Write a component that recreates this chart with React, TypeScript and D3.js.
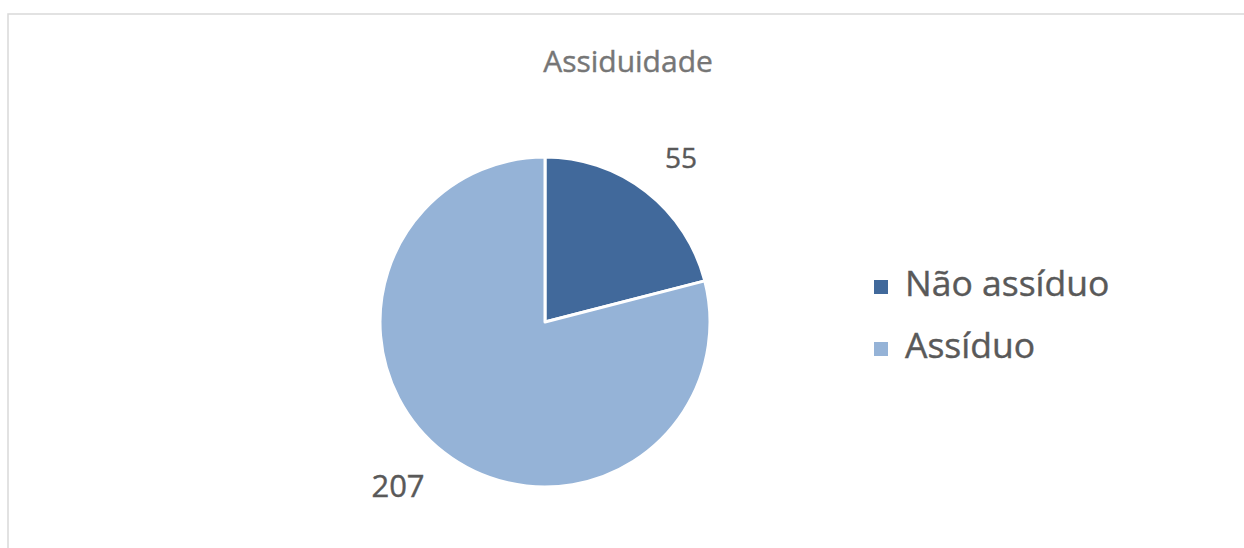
import React from "react";
import * as d3 from "d3";

const title = "Assiduidade";
const categories = ["Não assíduo", "Assíduo"];
const values = [55, 207];
const colors = ["#41699b", "#95b3d7"];

const W = 1244;
const H = 548;
const cx = 545;
const cy = 322;
const R = 165;

export default function App() {
  const pie = d3.pie<number>().sort(null).value((d) => d);
  const arcs = pie(values);
  const arcGen = d3.arc<d3.PieArcDatum<number>>().innerRadius(0).outerRadius(R);
  const font = "'Open Sans', Lato, sans-serif";
  const labelPos = [
    [681, 168],
    [398, 497],
  ];
  const labelSize = [28, 31];
  return (
    <svg
      width={W}
      height={H}
      style={{ position: "absolute", left: 0, top: 0, background: "#fff" }}
    >
      <rect x={8} y={14} width={W} height={H} fill="#fff" stroke="#d9d9d9" strokeWidth={1.5} />
      <text x={628} y={72} textAnchor="middle" fontFamily={font} fontSize={30} fill="#767676" stroke="#767676" strokeWidth={0.4}>
        {title}
      </text>
      <g transform={`translate(${cx},${cy})`}>
        {arcs.map((a, i) => (
          <path key={i} d={arcGen(a) || ""} fill={colors[i]} stroke="#fff" strokeWidth={3} strokeLinejoin="round" />
        ))}
      </g>
      {arcs.map((a, i) => (
        <text
          key={i}
          x={labelPos[i][0]}
          y={labelPos[i][1]}
          textAnchor="middle"
          fontFamily={font}
          fontSize={labelSize[i]}
          fill="#595959"
          stroke="#595959"
          strokeWidth={0.4}
        >
          {values[i]}
        </text>
      ))}
      {categories.map((c, i) => (
        <g key={c} transform={`translate(874,${296 + i * 62})`}>
          <rect x={0} y={-16} width={14} height={14} fill={colors[i]} />
          <text x={31} y={0} fontFamily={font} fontSize={35.5} fill="#595959" stroke="#595959" strokeWidth={0.4}>
            {c}
          </text>
        </g>
      ))}
    </svg>
  );
}
